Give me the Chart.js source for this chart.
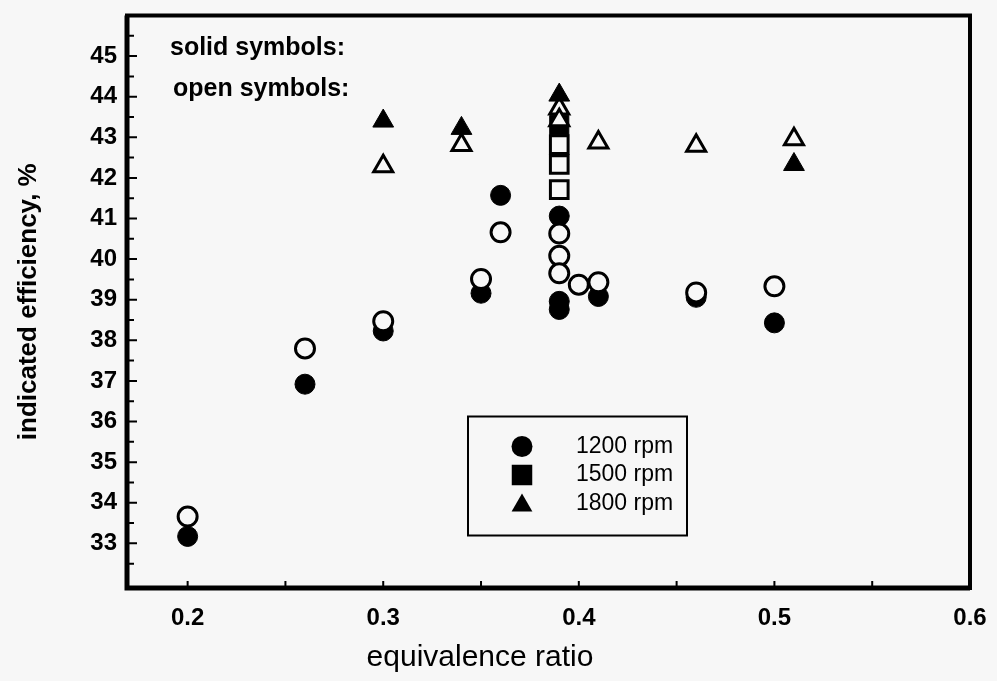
<!DOCTYPE html>
<html>
<head>
<meta charset="utf-8">
<title>Indicated efficiency vs equivalence ratio</title>
<script src="https://cdn.jsdelivr.net/npm/chart.js@4.4.1/dist/chart.umd.min.js"></script>
<style>
  html, body { margin: 0; padding: 0; background: #f7f7f7; }
  #wrap { width: 997px; height: 681px; }
</style>
</head>
<body>
<div id="wrap"><canvas id="chart" width="997" height="681"></canvas></div>
<script>
// ── Axis ticks ────────────────────────────────────────────────────
const xTicks      = [0.2, 0.3, 0.4, 0.5, 0.6];
const xMinorTicks = [0.25, 0.35, 0.45, 0.55];
const yTicks      = [33, 34, 35, 36, 37, 38, 39, 40, 41, 42, 43, 44, 45];
const yMinorTicks = [32.5, 33.5, 34.5, 35.5, 36.5, 37.5, 38.5, 39.5, 40.5, 41.5, 42.5, 43.5, 44.5, 45.5];

// ── Series (equivalence ratio, indicated efficiency %) ───────────
const solid1200 = [[0.20, 33.17], [0.26, 36.92], [0.30, 38.23], [0.35, 39.16], [0.36, 41.57],
                   [0.39, 41.06], [0.39, 38.96], [0.39, 38.76], [0.41, 39.08], [0.46, 39.06], [0.50, 38.43]];
const open1200  = [[0.20, 33.66], [0.26, 37.80], [0.30, 38.47], [0.35, 39.51], [0.36, 40.66],
                   [0.39, 40.63], [0.39, 40.08], [0.39, 39.65], [0.40, 39.37], [0.41, 39.43],
                   [0.46, 39.18], [0.50, 39.33]];
const solid1500 = [[0.39, 43.30]];
const open1500  = [[0.39, 42.82], [0.39, 42.33], [0.39, 41.71]];
const solid1800 = [[0.30, 43.40], [0.34, 43.22], [0.39, 44.04], [0.51, 42.33]];
const open1800  = [[0.30, 42.29], [0.34, 42.81], [0.39, 43.71], [0.39, 43.42], [0.41, 42.87],
                   [0.46, 42.79], [0.51, 42.95]];

const legendLabels = ["1200 rpm", "1500 rpm", "1800 rpm"];
const legendShapes = ["circle", "rect", "triangle"];

const INK  = "#000";
const BG   = "#f7f7f7";
const FONT = "'Liberation Sans', Arial, Helvetica, sans-serif";

Chart.defaults.font.family = FONT;
Chart.defaults.color       = INK;

const pts = arr => arr.map(([x, y]) => ({ x, y }));

function solid(data, style, radius, order) {
  return {
    data: pts(data), pointStyle: style, pointRadius: radius, pointHoverRadius: radius,
    backgroundColor: INK, borderColor: INK, borderWidth: 1, order,
  };
}
function open(data, style, radius, order) {
  return {
    data: pts(data), pointStyle: style, pointRadius: radius, pointHoverRadius: radius,
    backgroundColor: BG, borderColor: INK, borderWidth: 3, order,
  };
}

// ── Marker helper (legend) ────────────────────────────────────────
function marker(ctx, style, x, y, r) {
  ctx.beginPath();
  if (style === "circle") {
    ctx.arc(x, y, r, 0, Math.PI * 2);
  } else if (style === "rect") {
    const s = r * Math.SQRT1_2;
    ctx.rect(x - s, y - s, 2 * s, 2 * s);
  } else {
    ctx.moveTo(x, y - r);
    ctx.lineTo(x + r * Math.sin(2 * Math.PI / 3), y - r * Math.cos(2 * Math.PI / 3));
    ctx.lineTo(x + r * Math.sin(4 * Math.PI / 3), y - r * Math.cos(4 * Math.PI / 3));
    ctx.closePath();
  }
  ctx.fill();
}

// ── Frame, inward ticks, notes, legend, x title ──────────────────
const decor = {
  id: "decor",
  afterDraw(chart) {
    const { ctx, chartArea: a, scales: { x, y } } = chart;
    ctx.save();
    ctx.strokeStyle = INK;
    ctx.fillStyle   = INK;

    // ticks
    ctx.lineWidth = 2;
    ctx.beginPath();
    yTicks.forEach(v => { const p = y.getPixelForValue(v); ctx.moveTo(a.left, p); ctx.lineTo(a.left + 10, p); });
    yMinorTicks.forEach(v => { const p = y.getPixelForValue(v); ctx.moveTo(a.left, p); ctx.lineTo(a.left + 7, p); });
    xTicks.concat(xMinorTicks).forEach(v => { const p = x.getPixelForValue(v); ctx.moveTo(p, a.bottom); ctx.lineTo(p, a.bottom - 7); });
    ctx.stroke();

    // frame
    ctx.lineWidth = 4;
    ctx.strokeRect(a.left, a.top, a.right - a.left, a.bottom - a.top);
    ctx.lineWidth = 5;
    ctx.beginPath();
    ctx.moveTo(a.left, a.top); ctx.lineTo(a.left, a.bottom); ctx.lineTo(a.right, a.bottom);
    ctx.stroke();

    // notes top-left
    ctx.font = `bold 25px ${FONT}`;
    ctx.textAlign = "left";
    ctx.textBaseline = "alphabetic";
    ctx.fillText("solid symbols:", a.left + 43, a.top + 39);
    ctx.fillText("open symbols:", a.left + 46, a.top + 80);

    // legend box
    const bx = a.left + 341, by = a.top + 401, bw = 219, bh = 119;
    ctx.lineWidth = 2;
    ctx.strokeRect(bx, by, bw, bh);
    ctx.font = `23px ${FONT}`;
    ctx.textBaseline = "middle";
    legendLabels.forEach((lab, i) => {
      const cy = by + 30 + i * 28.5;
      const r  = legendShapes[i] === "circle" ? 10.5 : legendShapes[i] === "rect" ? 14.5 : 12;
      marker(ctx, legendShapes[i], bx + 54, cy + (legendShapes[i] === "triangle" ? 2 : 0), r);
      ctx.fillText(lab, bx + 108, cy);
    });

    // x axis title
    ctx.font = `30px ${FONT}`;
    ctx.textAlign = "center";
    ctx.textBaseline = "middle";
    ctx.fillText("equivalence ratio", 480, 658);
    ctx.restore();
  }
};

new Chart(document.getElementById("chart"), {
  type: "scatter",
  data: {
    datasets: [
      solid(solid1200, "circle",   10,   6),
      open(open1200,   "circle",    9.5, 5),
      open(open1500,   "rect",     12.5, 4),
      solid(solid1500, "rect",     13.5, 3),
      open(open1800,   "triangle", 11,   2),
      solid(solid1800, "triangle", 12,   1),
    ]
  },
  options: {
    responsive: false,
    animation: false,
    layout: { padding: { top: 12, right: 27, left: 0, bottom: 0 } },
    plugins: { legend: { display: false }, tooltip: { enabled: false } },
    scales: {
      x: {
        type: "linear", min: 0.169, max: 0.6,
        afterBuildTicks: s => { s.ticks = xTicks.map(value => ({ value })); },
        afterFit: s => { s.height = 93; s.paddingLeft = 0; s.paddingRight = 0; },
        grid: { display: false, drawTicks: false },
        border: { display: false },
        ticks: { font: { size: 24, weight: "bold" }, padding: 16, maxRotation: 0, callback: v => v.toFixed(1) },
      },
      y: {
        type: "linear", min: 31.9, max: 46,
        afterBuildTicks: s => { s.ticks = yTicks.map(value => ({ value })); },
        afterFit: s => { s.width = 127; s.paddingTop = 0; s.paddingBottom = 0; },
        grid: { display: false, drawTicks: false },
        border: { display: false },
        ticks: { font: { size: 24, weight: "bold" }, padding: 10 },
        title: { display: true, text: "indicated efficiency, %", font: { size: 26, weight: "bold" }, padding: { top: 13 } },
      }
    }
  },
  plugins: [decor]
});
</script>
</body>
</html>
